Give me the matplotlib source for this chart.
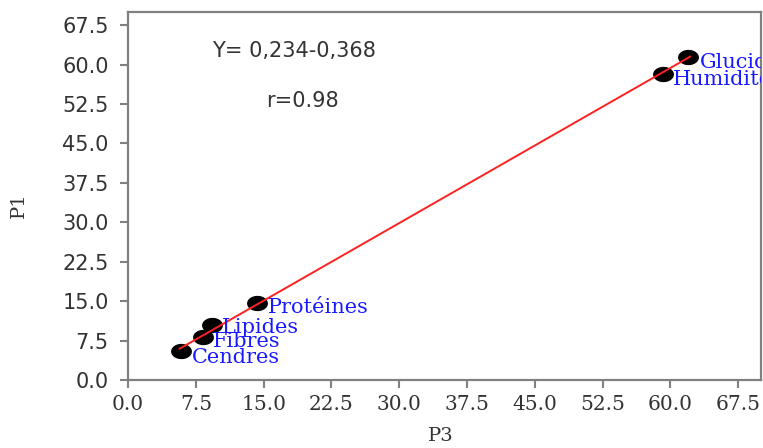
import matplotlib
matplotlib.use("Agg")
import matplotlib.pyplot as plt
import numpy as np
from matplotlib.path import Path

# variables and their coordinates on P3 / P1
names = ['Cendres', 'Fibres', 'Lipides', 'Protéines', 'Humidité', 'Glucides']
p3 = [5.9, 8.3, 9.3, 14.3, 59.2, 61.9]
p1 = [5.5, 8.1, 10.4, 14.6, 58.3, 61.4]
label_offsets = [(11, -12), (10, -10), (10, -8), (11, -10), (10, -11), (12, -11)]
ticks = np.arange(0, 68, 7.5)

fig = plt.figure(figsize=(7.63, 4.48), dpi=100)
ax = fig.add_axes([0.1678, 0.1518, 0.8292, 0.8214])

# slightly wide ellipse marker, like the original
t = np.linspace(0, 2 * np.pi, 60)
ell = Path(np.column_stack([1.4 * np.cos(t), np.sin(t)]), closed=True)
ax.plot(p3, p1, linestyle='none', marker=ell, markersize=14,
        color='black', zorder=3)

# regression line
slope, inter = np.polyfit(p3, p1, 1)
xs = np.array([min(p3) - 0.2, max(p3) + 0.3])
ax.plot(xs, slope * xs + inter, color='#ff2020', linewidth=1.4, zorder=4)

for n, x, y, off in zip(names, p3, p1, label_offsets):
    ax.annotate(n, (x, y), xytext=off, textcoords='offset pixels',
                ha='left', va='baseline', color='#1a1aff',
                family='DejaVu Serif', fontsize=15, clip_on=True,
                annotation_clip=False, zorder=5)

ax.text(9.3, 62.5, 'Y= 0,234-0,368', ha='left', va='center',
        fontsize=15, color='#333333', family='DejaVu Sans')
ax.text(15.3, 53.0, 'r=0.98', ha='left', va='center',
        fontsize=15, color='#333333', family='DejaVu Sans')

ax.set_xlim(0, 70)
ax.set_ylim(0, 70)
ax.set_xticks(ticks)
ax.set_yticks(ticks)
ax.set_xticklabels([f'{v:.1f}' for v in ticks], family='DejaVu Serif',
                   fontsize=14.5, color='#333333')
ax.set_yticklabels([f'{v:.1f}' for v in ticks], family='DejaVu Sans',
                   fontsize=15, color='#333333')
ax.tick_params(direction='out', length=6, width=1.5, color='#808080')
ax.tick_params(axis='x', pad=5)
ax.tick_params(axis='y', pad=8)

for s in ax.spines.values():
    s.set_color('#808080')
    s.set_linewidth(1.6)

ax.set_xlabel('P3', family='DejaVu Serif', fontsize=14, color='#333333')
ax.set_ylabel('P1', family='DejaVu Serif', fontsize=14, color='#333333')
ax.xaxis.set_label_coords(0.495, -0.128)
ax.yaxis.set_label_coords(-0.158, 0.476)

fig.savefig('out.png', dpi=100)
plt.close(fig)
